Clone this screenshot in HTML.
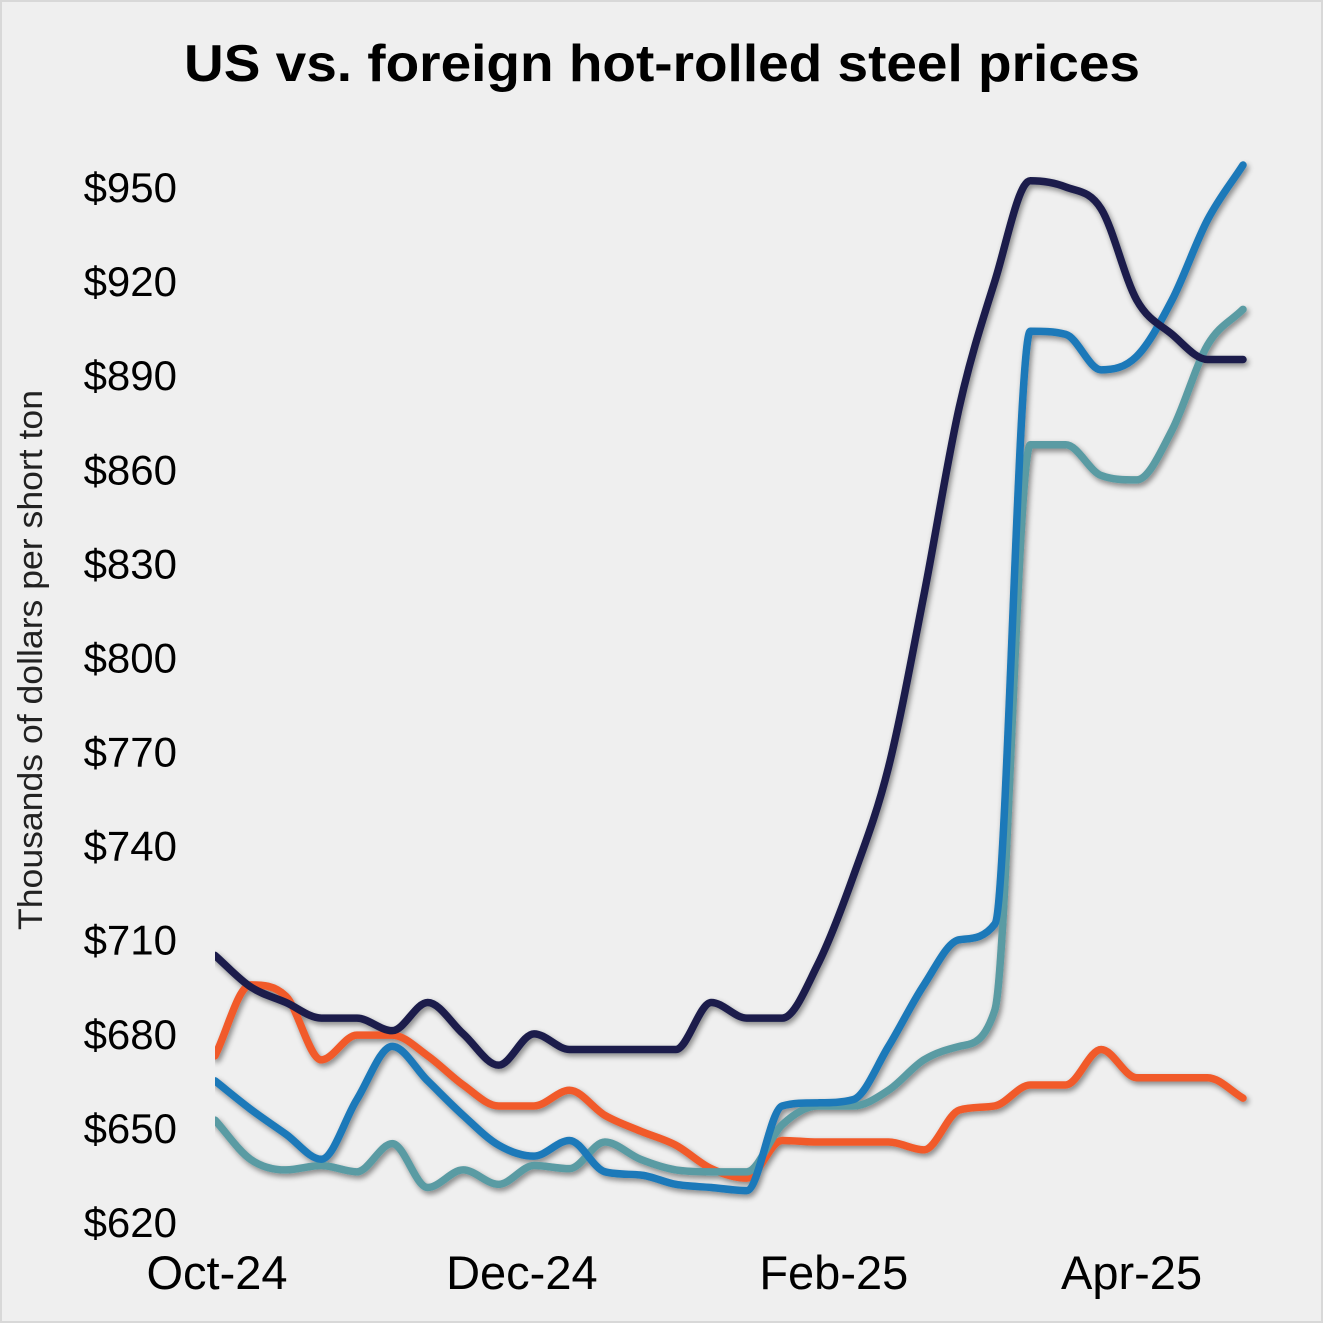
<!DOCTYPE html>
<html><head><meta charset="utf-8"><style>
html,body{margin:0;padding:0;background:#fff}
svg{display:block;font-family:"Liberation Sans",Arial,sans-serif}
</style></head><body>
<svg width="1323" height="1323" viewBox="0 0 1323 1323" xmlns="http://www.w3.org/2000/svg">
<defs>
<filter id="sh" x="-5%" y="-5%" width="110%" height="110%"><feGaussianBlur in="SourceAlpha" stdDeviation="3"/><feOffset dx="2" dy="3"/><feComponentTransfer><feFuncA type="linear" slope="0.45"/></feComponentTransfer><feMerge><feMergeNode/><feMergeNode in="SourceGraphic"/></feMerge></filter>
<clipPath id="clip"><rect x="215" y="100" width="1100" height="1150"/></clipPath>
</defs>
<rect x="1" y="1" width="1321" height="1321" fill="#efefef" stroke="#d8d8d8" stroke-width="2"/>
<text x="662" y="81" text-anchor="middle" font-size="52" font-weight="bold" fill="#000" textLength="956" lengthAdjust="spacingAndGlyphs">US vs. foreign hot-rolled steel prices</text>
<text transform="translate(42,660) rotate(-90)" text-anchor="middle" font-size="34" fill="#222" textLength="540" lengthAdjust="spacingAndGlyphs">Thousands of dollars per short ton</text>
<g id="yticks"></g>
<g id="xticks"></g>
<g id="lines" clip-path="url(#clip)" filter="url(#sh)"></g>
</svg>
<script>
const yTicks=[620,650,680,710,740,770,800,830,860,890,920,950];
const xLabels=["Oct-24","Dec-24","Feb-25","Apr-25"];
const xLabelIdx=[0,8.6,17.4,25.8];
const navy=[705,695,690,685,685,681,690,680,670,680,675,675,675,675,690,685,685,702,730,765,820,880,920,952,950,943,914,903,895,895];
const blue=[665,656,648,640,659,676,665,654,644.5,641,646,636,635,632,631,630,657,658,659,676,695.6,710,715,904,903,891.7,896,914,939.5,957];
const teal=[652.5,640,636.6,638,636,645,631,636.6,632,638,637,645.5,640,636.6,636,636,651,657,657,662,671.7,676,687.6,867.8,867.8,858,856.6,872.5,899.6,911];
const orange=[673,695.6,692,671.7,679.6,679.6,673,663.7,657,657,662,654,649,644.5,637,634,646,645.5,645.5,645.5,643,655.7,657,663.7,663.7,675,666,666,666,659.5];
const NS="http://www.w3.org/2000/svg";
const y=v=>1222-(v-620)*(1035/330);
const x=i=>215+i*(1028/29);
const yg=document.getElementById('yticks');
yTicks.forEach(v=>{const t=document.createElementNS(NS,'text');


t.setAttribute('x',177);t.setAttribute('y',y(v)+15);t.setAttribute('text-anchor','end');t.setAttribute('font-size','42');t.textContent='$'+v;yg.appendChild(t);});
const xg=document.getElementById('xticks');
xLabels.forEach((s,k)=>{const t=document.createElementNS(NS,'text');


t.setAttribute('x',x(xLabelIdx[k])+2);t.setAttribute('y',1289);t.setAttribute('text-anchor','middle');t.setAttribute('font-size','47');t.textContent=s;xg.appendChild(t);});
function pathD(vals){const P=vals.map((v,i)=>[x(i),y(v)]);const n=P.length;
const d=[],m=[];for(let i=0;i<n-1;i++)d.push((P[i+1][1]-P[i][1])/(P[i+1][0]-P[i][0]));
m[0]=d[0];m[n-1]=d[n-2];for(let i=1;i<n-1;i++)m[i]=(d[i-1]*d[i]<=0)?0:(d[i-1]+d[i])/2;
for(let i=0;i<n-1;i++){if(d[i]===0){m[i]=0;m[i+1]=0;continue;}const a=m[i]/d[i],b=m[i+1]/d[i],s=a*a+b*b;if(s>9){const t=3/Math.sqrt(s);m[i]=t*a*d[i];m[i+1]=t*b*d[i];}}
let s='M'+P[0][0]+','+P[0][1];for(let i=0;i<n-1;i++){const h=(P[i+1][0]-P[i][0])/3;
s+=` C${P[i][0]+h},${P[i][1]+m[i]*h} ${P[i+1][0]-h},${P[i+1][1]-m[i+1]*h} ${P[i+1][0]},${P[i+1][1]}`;}return s;}
const lg=document.getElementById('lines');
[[orange,'#f15a29','line-orange'],[teal,'#5a9ba3','line-teal'],[blue,'#1b79b9','line-blue'],[navy,'#1b1f4b','line-navy']].forEach(([vals,c,nm])=>{
const p=document.createElementNS(NS,'path');


p.setAttribute('d',pathD(vals));p.setAttribute('fill','none');p.setAttribute('stroke',c);p.setAttribute('stroke-width','7.5');p.setAttribute('stroke-linecap','round');p.setAttribute('stroke-linejoin','round');lg.appendChild(p);});
</script>
</body></html>
